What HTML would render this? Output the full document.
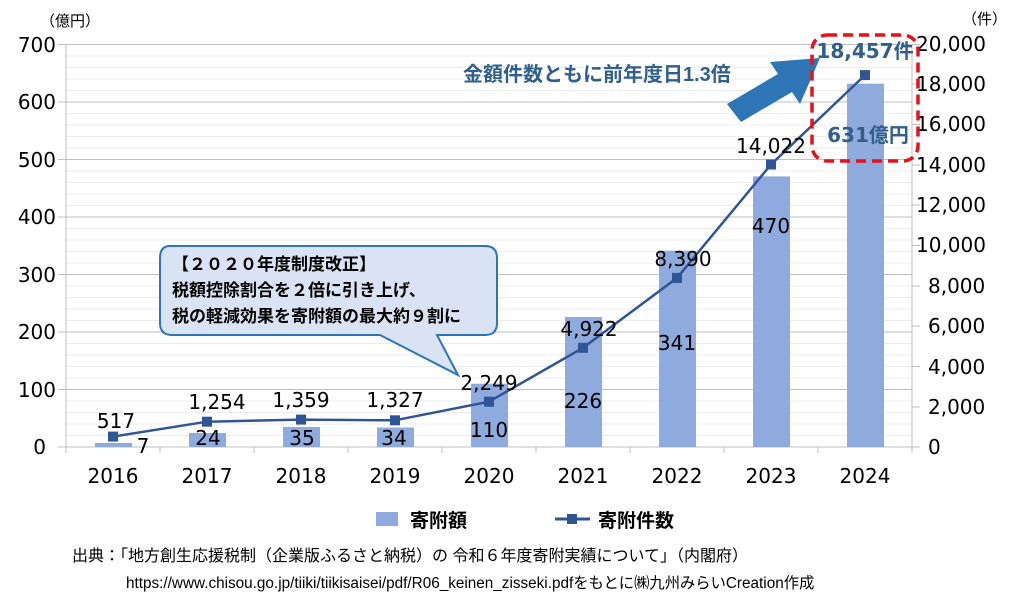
<!DOCTYPE html>
<html><head><meta charset="utf-8"><style>
body{margin:0;background:#fff}
svg text{font-family:"DejaVu Sans","Noto Sans CJK JP",sans-serif}
.j{font-family:"Liberation Sans","Noto Sans CJK JP",sans-serif}
</style></head><body>
<svg width="1017" height="599" viewBox="0 0 1017 599" xmlns="http://www.w3.org/2000/svg">
<g stroke="#ececec" stroke-width="1">
<path d="M66 435.5H912M66 424H912M66 412.5H912M66 401H912M66 378H912M66 366.5H912M66 355H912M66 343.5H912M66 320.5H912M66 309H912M66 297.5H912M66 286H912M66 263H912M66 251.5H912M66 240H912M66 228.5H912M66 205.5H912M66 194H912M66 182.5H912M66 171H912M66 148H912M66 136.5H912M66 125H912M66 113.5H912M66 90.5H912M66 79H912M66 67.5H912M66 56H912"/>
</g>
<g stroke="#bfbfbf" stroke-width="1">
<path d="M58 447H920M58 389.5H912M58 332H912M58 274.5H912M58 217H912M58 159.5H912M58 102H912M58 44.5H920"/>
<path d="M66 44V447M912 44V447"/>
<path d="M912 407H920M912 366.5H920M912 326H920M912 286H920M912 245.5H920M912 205H920M912 165H920M912 124.5H920M912 84H920"/>
<path d="M160 447V453M254 447V453M348 447V453M442 447V453M536 447V453M630 447V453M724 447V453M818 447V453M66 447V453M912 447V453"/>
</g>
<g fill="#8faadc">
<rect x="95" y="443" width="37" height="4"/>
<rect x="189" y="433" width="37" height="14"/>
<rect x="283" y="427" width="37" height="20"/>
<rect x="377" y="427.5" width="37" height="19.5"/>
<rect x="471" y="383.7" width="37" height="63.3"/>
<rect x="565" y="317" width="37" height="130"/>
<rect x="659" y="250.7" width="37" height="196.3"/>
<rect x="753" y="176.4" width="37" height="270.6"/>
<rect x="847" y="83.7" width="37" height="363.3"/>
</g>
<polyline fill="none" stroke="#2f5597" stroke-width="2.5" points="113,436.6 207,421.7 301,419.6 395,420.3 489,401.7 583,347.8 677,277.9 771,164.5 865,75.1"/>
<g fill="#2f5597">
<rect x="108" y="431.6" width="10" height="10"/><rect x="202" y="416.7" width="10" height="10"/><rect x="296" y="414.6" width="10" height="10"/><rect x="390" y="415.3" width="10" height="10"/><rect x="484" y="396.7" width="10" height="10"/><rect x="578" y="342.8" width="10" height="10"/><rect x="672" y="272.9" width="10" height="10"/><rect x="766" y="159.5" width="10" height="10"/><rect x="860" y="70.1" width="10" height="10"/>
</g>
<g font-size="20" fill="#000" text-anchor="end">
<text x="46" y="454">0</text><text x="56" y="397">100</text><text x="56" y="339">200</text><text x="56" y="282">300</text><text x="56" y="224">400</text><text x="56" y="167">500</text><text x="56" y="109">600</text><text x="56" y="52">700</text>
</g>
<g font-size="20" fill="#000" text-anchor="start">
<text x="928" y="454">0</text><text x="928" y="414">2,000</text><text x="928" y="374">4,000</text><text x="928" y="333">6,000</text><text x="928" y="293">8,000</text><text x="916" y="252">10,000</text><text x="916" y="212">12,000</text><text x="916" y="172">14,000</text><text x="916" y="131">16,000</text><text x="916" y="91">18,000</text><text x="916" y="51">20,000</text>
</g>
<text x="40" y="26" font-size="15" class="j">（億円）</text>
<text x="962" y="24" font-size="15" class="j">（件）</text>
<g font-size="20" text-anchor="middle">
<text x="113" y="483">2016</text><text x="207" y="483">2017</text><text x="301" y="483">2018</text><text x="395" y="483">2019</text><text x="489" y="483">2020</text><text x="583" y="483">2021</text><text x="677" y="483">2022</text><text x="771" y="483">2023</text><text x="865" y="483">2024</text>
</g>
<g font-size="20" text-anchor="middle">
<text x="116" y="428">517</text><text x="217" y="409">1,254</text><text x="301" y="407">1,359</text><text x="395" y="407">1,327</text><text x="489" y="390">2,249</text><text x="589" y="336">4,922</text><text x="683" y="266">8,390</text><text x="771" y="153">14,022</text>
<text x="143" y="453">7</text><text x="208" y="445">24</text><text x="302" y="445">35</text><text x="394" y="445">34</text><text x="489" y="437">110</text><text x="583" y="408">226</text><text x="677" y="350">341</text><text x="771" y="233">470</text>
</g>
<path d="M170 246H485Q497 246 497 258V323Q497 335 485 335H437L458 375L380 335H172Q160 335 160 323V258Q160 246 170 246Z" fill="#dae3f3" stroke="#2e75b6" stroke-width="2"/>
<g font-size="17" font-weight="bold" fill="#000" class="j">
<text x="172" y="270">【２０２０年度制度改正】</text>
<text x="172" y="296">税額控除割合を２倍に引き上げ、</text>
<text x="172" y="322">税の軽減効果を寄附額の最大約９割に</text>
</g>
<text x="463" y="81" font-size="20" font-weight="bold" fill="#2f5f8a" class="j">金額件数ともに前年度日1.3倍</text>
<polygon points="727,104 778,74 770,62 820,58 800,104 792,92 741,122" fill="#2e75b6"/>
<rect x="812" y="35" width="106" height="126" rx="15" fill="none" stroke="#e8101a" stroke-width="3.5" stroke-dasharray="10,6"/>
<text x="865" y="58" font-size="20" font-weight="bold" fill="#2f5f8a" text-anchor="middle">18,457件</text>
<text x="868" y="142" font-size="20" font-weight="bold" fill="#2f5f8a" text-anchor="middle">631億円</text>
<rect x="376" y="512" width="22" height="14" fill="#8faadc"/>
<text x="410" y="527" font-size="19" font-weight="bold" class="j">寄附額</text>
<path d="M555 519H590" stroke="#2f5597" stroke-width="3"/>
<rect x="567" y="514" width="10" height="10" fill="#2f5597"/>
<text x="598" y="527" font-size="19" font-weight="bold" class="j">寄附件数</text>
<text x="72" y="561" font-size="16" class="j">出典：「地方創生応援税制（企業版ふるさと納税）の 令和６年度寄附実績について」（内閣府）</text>
<text x="126" y="588" font-size="15.3" class="j">https://www.chisou.go.jp/tiiki/tiikisaisei/pdf/R06_keinen_zisseki.pdfをもとに㈱九州みらいCreation作成</text>
</svg>
</body></html>
